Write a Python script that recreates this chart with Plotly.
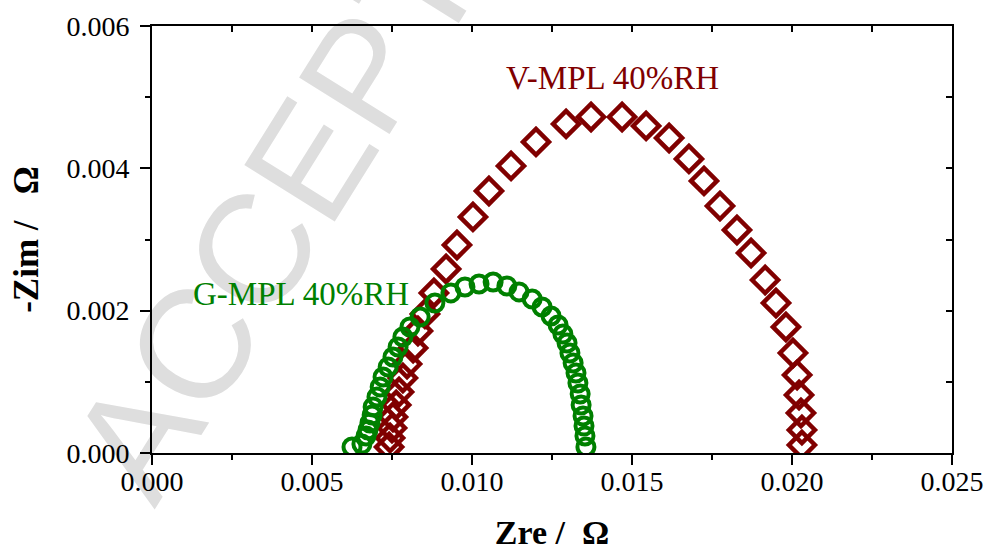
import plotly.graph_objects as go

# G-MPL 40%RH (circles)
g_zre = [0.00625, 0.00656, 0.00669, 0.00675, 0.00681, 0.00688, 0.00691, 0.00703, 0.00713, 0.00722,
         0.00738, 0.00753, 0.00769, 0.00784, 0.00806, 0.00838, 0.00884, 0.00934, 0.00978, 0.01022,
         0.01066, 0.01109, 0.01147, 0.01188, 0.01219, 0.01247, 0.01269, 0.01284, 0.01297, 0.01306,
         0.01316, 0.01325, 0.01331, 0.01338, 0.01341, 0.01347, 0.01350, 0.01353, 0.01356]
g_zim = [0.000084, 0.000126, 0.000239, 0.000323, 0.000422, 0.000534, 0.000647, 0.000787, 0.000928, 0.001068,
         0.001209, 0.001349, 0.001490, 0.001630, 0.001771, 0.001911, 0.002108, 0.002249, 0.002333, 0.002375,
         0.002403, 0.002347, 0.002263, 0.002164, 0.002052, 0.001925, 0.001799, 0.001672, 0.001546, 0.001405,
         0.001265, 0.001124, 0.000984, 0.000829, 0.000675, 0.000520, 0.000379, 0.000239, 0.000084]

# V-MPL 40%RH (diamonds)
v_zre = [0.00741, 0.00744, 0.00750, 0.00753, 0.00763, 0.00772, 0.00784, 0.00797, 0.00816, 0.00831,
         0.00853, 0.00881, 0.00919, 0.00953, 0.01003, 0.01053, 0.01122, 0.01200, 0.01294, 0.01372,
         0.01469, 0.01544, 0.01616, 0.01678, 0.01725, 0.01775, 0.01828, 0.01872, 0.01916, 0.01950,
         0.01981, 0.02003, 0.02016, 0.02022, 0.02028, 0.02031, 0.02031]
v_zim = [0.000084, 0.000211, 0.000351, 0.000506, 0.000675, 0.000857, 0.001054, 0.001251, 0.001476, 0.001715,
         0.001954, 0.002249, 0.002586, 0.002923, 0.003317, 0.003682, 0.004034, 0.004371, 0.004624, 0.004722,
         0.004722, 0.004596, 0.004427, 0.004132, 0.003823, 0.003471, 0.003134, 0.002811, 0.002431, 0.002108,
         0.001771, 0.001405, 0.001096, 0.000815, 0.000562, 0.000323, 0.000112]

x_ticks = [0.000, 0.005, 0.010, 0.015, 0.020, 0.025]
y_ticks = [0.000, 0.002, 0.004, 0.006]

RED = "#800000"
GREEN = "#008000"
SERIF = "Liberation Serif, Times New Roman, serif"

fig = go.Figure()
fig.add_trace(go.Scatter(x=v_zre, y=v_zim, mode="markers", name="V-MPL 40%RH",
                         marker=dict(symbol="diamond-open", size=20, color=RED,
                                     line=dict(width=4.5, color=RED))))
fig.add_trace(go.Scatter(x=g_zre, y=g_zim, mode="markers", name="G-MPL 40%RH",
                         marker=dict(symbol="circle-open", size=17, color=GREEN,
                                     line=dict(width=4, color=GREEN))))

# dummy trace for mirrored axes (top / right ticks inside)
fig.add_trace(go.Scatter(x=[None], y=[None], xaxis="x2", yaxis="y2", showlegend=False, hoverinfo="skip"))

axis_common = dict(showgrid=False, zeroline=False, showline=True, linecolor="black", linewidth=2,
                   tickcolor="black", tickwidth=1.5, automargin=False)

fig.update_layout(
    width=997, height=552,
    margin=dict(l=152, r=45, t=26, b=99),
    paper_bgcolor="white", plot_bgcolor="rgba(0,0,0,0)",
    showlegend=False,
    font=dict(family=SERIF, color="black"),
    xaxis=dict(range=[0, 0.025], tickvals=x_ticks, ticktext=[f"{v:.3f}" for v in x_ticks],
               ticks="outside", ticklen=10, ticklabelstandoff=-8,
               minor=dict(dtick=0.0025, tick0=0, ticks="outside", ticklen=5, tickcolor="black", tickwidth=1.5),
               tickfont=dict(size=28, family=SERIF),
               title=dict(text="<b>Zre /\u00a0 Ω</b>", font=dict(size=34, family=SERIF), standoff=25),
               mirror=True, **axis_common),
    yaxis=dict(range=[0, 0.006], tickvals=y_ticks, ticktext=[f"{v:.3f}" for v in y_ticks],
               ticks="outside", ticklen=10, ticklabelstandoff=5,
               minor=dict(dtick=0.001, tick0=0, ticks="outside", ticklen=5, tickcolor="black", tickwidth=1.5),
               tickfont=dict(size=28, family=SERIF),
               title=dict(text="<b>-Zim /\u00a0\u00a0 Ω</b>", font=dict(size=35, family=SERIF), standoff=17),
               mirror=True, **axis_common),
    xaxis2=dict(overlaying="x", side="top", matches="x", range=[0, 0.025], tickvals=x_ticks,
                ticks="inside", ticklen=6, showticklabels=False,
                minor=dict(dtick=0.0025, tick0=0, ticks="inside", ticklen=6, tickcolor="black", tickwidth=1.5),
                **axis_common),
    yaxis2=dict(overlaying="y", side="right", matches="y", range=[0, 0.006], tickvals=y_ticks,
                ticks="inside", ticklen=6, showticklabels=False,
                minor=dict(dtick=0.001, tick0=0, ticks="inside", ticklen=6, tickcolor="black", tickwidth=1.5),
                **axis_common),
    shapes=[
        dict(type="rect", xref="paper", yref="paper", x0=0.16, x1=0.26, y0=0.74, y1=0.84,
             line=dict(width=0), fillcolor="rgba(0,0,0,0)", layer="below",
             label=dict(text="ACCEPTED", textangle=-58, textposition="middle center",
                        font=dict(size=155, family="Liberation Sans, Arial, sans-serif", color="#dedede"))),
    ],
    annotations=[
        dict(text="V-MPL 40%RH", x=0.014375, y=0.00527, xref="x", yref="y", showarrow=False,
             font=dict(size=33, family=SERIF, color=RED), xanchor="center", yanchor="middle"),
        dict(text="G-MPL 40%RH", x=0.00466, y=0.002235, xref="x", yref="y", showarrow=False,
             font=dict(size=33, family=SERIF, color=GREEN), xanchor="center", yanchor="middle"),
    ],
)

fig.write_html("out.html")
